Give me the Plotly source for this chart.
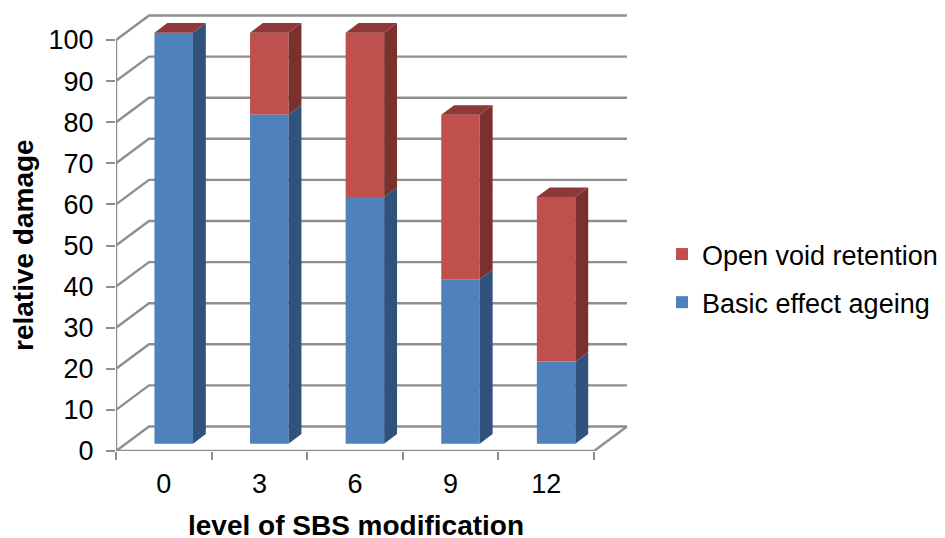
import plotly.graph_objects as go

categories = ["0", "3", "6", "9", "12"]
basic_effect = [100, 80, 60, 40, 20]
open_void = [0, 20, 40, 40, 40]
y_ticks = list(range(0, 101, 10))

BLUE, BLUE_SIDE = "#4F81BD", "#30527C"
RED, RED_SIDE, RED_TOP = "#C0504D", "#7C302E", "#8E3937"
GRID = "#8E8E8E"
FONT = "Liberation Sans, Arial, sans-serif"
FS = 27
FS_BOLD = 28

PAGE = 8  # browser body margin
W, H = 945 - PAGE, 538 - PAGE
L, R_PX, T, B_PX = 116 - PAGE, 630 - PAGE, 14 - PAGE, 451 - PAGE
PX_X = 95.6   # pixels per category
PX_Y = 4.11   # pixels per value unit
DX, DY = 33 / PX_X, 24.5 / PX_Y   # full depth offset in data units
BAR_W = 38.5 / PX_X
D0, D1 = 0.30, 0.69               # front/back of bars within depth
n = len(categories)
xpos = list(range(n))


def proj(x, v, d):
    return x + DX * d, v + DY * d


# wall, floor and axis lines
gx, gy = [], []
for v in y_ticks:
    for x, y in [proj(-0.5, v, 0), proj(-0.5, v, 1), proj(n - 0.5, v, 1)]:
        gx.append(x); gy.append(y)
    gx.append(None); gy.append(None)
for x, y in [proj(-0.5, 0, 0), proj(n - 0.5, 0, 0), proj(n - 0.5, 0, 1)]:
    gx.append(x); gy.append(y)
gx.append(None); gy.append(None)
for x, y in [proj(-0.5, y_ticks[0], 0), proj(-0.5, y_ticks[-1], 0)]:
    gx.append(x); gy.append(y)

fig = go.Figure()
fig.add_trace(go.Scatter(x=gx, y=gy, mode="lines", line=dict(color=GRID, width=2.4),
                         hoverinfo="skip", showlegend=False, cliponaxis=False, zorder=0))

bar_x = [proj(x, 0, D0)[0] for x in xpos]
base_off = proj(0, 0, D0)[1]
fig.add_trace(go.Bar(name="Open void retention", x=bar_x, y=open_void,
                     base=[b + base_off for b in basic_effect], width=BAR_W,
                     marker=dict(color=RED, line=dict(width=0)), legendgroup="open", zorder=1))
fig.add_trace(go.Bar(name="Basic effect ageing", x=bar_x, y=basic_effect,
                     base=[base_off] * n, width=BAR_W,
                     marker=dict(color=BLUE, line=dict(width=0)), legendgroup="basic", zorder=1))


def side_polys(lo, hi):
    xs, ys = [], []
    for x, a, b in zip(xpos, lo, hi):
        r = x + BAR_W / 2
        for p in [proj(r, a, D0), proj(r, a, D1), proj(r, b, D1), proj(r, b, D0), proj(r, a, D0)]:
            xs.append(p[0]); ys.append(p[1])
        xs.append(None); ys.append(None)
    return xs, ys


totals = [a + b for a, b in zip(basic_effect, open_void)]
for lo, hi, col in [([0] * n, basic_effect, BLUE_SIDE), (basic_effect, totals, RED_SIDE)]:
    xs, ys = side_polys(lo, hi)
    fig.add_trace(go.Scatter(x=xs, y=ys, mode="lines", fill="toself", fillcolor=col,
                             line=dict(width=0, color=col), hoverinfo="skip",
                             showlegend=False, zorder=2))

tx, ty = [], []
for x, v in zip(xpos, totals):
    l, r = x - BAR_W / 2, x + BAR_W / 2
    for p in [proj(l, v, D0), proj(r, v, D0), proj(r, v, D1), proj(l, v, D1), proj(l, v, D0)]:
        tx.append(p[0]); ty.append(p[1])
    tx.append(None); ty.append(None)
fig.add_trace(go.Scatter(x=tx, y=ty, mode="lines", fill="toself", fillcolor=RED_TOP,
                         line=dict(width=0, color=RED_TOP), hoverinfo="skip",
                         showlegend=False, zorder=2))

fig.update_layout(
    width=W, height=H, paper_bgcolor="white", plot_bgcolor="white",
    barmode="overlay", margin=dict(l=L, r=W - R_PX, t=T, b=H - B_PX, autoexpand=False),
    font=dict(family=FONT, size=FS, color="#000000"),
    xaxis=dict(range=[-0.5, -0.5 + (R_PX - L) / PX_X], tickmode="array", tickvals=xpos,
               ticktext=categories, ticks="", showgrid=False, zeroline=False, showline=False,
               ticklabelstandoff=14,
               minor=dict(tick0=-0.5, dtick=1, ticks="outside", ticklen=8, tickwidth=2.4,
                          tickcolor=GRID, showgrid=False)),
    yaxis=dict(range=[0, (B_PX - T) / PX_Y], tickmode="array", tickvals=y_ticks,
               ticks="outside", ticklen=9, tickwidth=2.4, tickcolor=GRID, showgrid=False,
               zeroline=False, showline=False, ticklabelstandoff=7),
    legend=dict(xref="container", yref="container", x=0.698, xanchor="left",
                y=1 - 222 / H, yanchor="top", traceorder="grouped", tracegroupgap=10,
                bgcolor="rgba(0,0,0,0)", font=dict(size=FS)),
    annotations=[
        dict(text="<b>relative damage</b>", xref="paper", yref="paper",
             x=(24 - PAGE - L) / (R_PX - L), y=(B_PX - (245 - PAGE)) / (B_PX - T), textangle=-90,
             xanchor="center", yanchor="middle", showarrow=False, font=dict(size=FS_BOLD)),
        dict(text="<b>level of SBS modification</b>", xref="paper", yref="paper",
             x=(356 - PAGE - L) / (R_PX - L), y=(B_PX - (525 - PAGE)) / (B_PX - T),
             xanchor="center", yanchor="middle", showarrow=False, font=dict(size=FS_BOLD)),
    ],
)
fig.write_html("out.html")
